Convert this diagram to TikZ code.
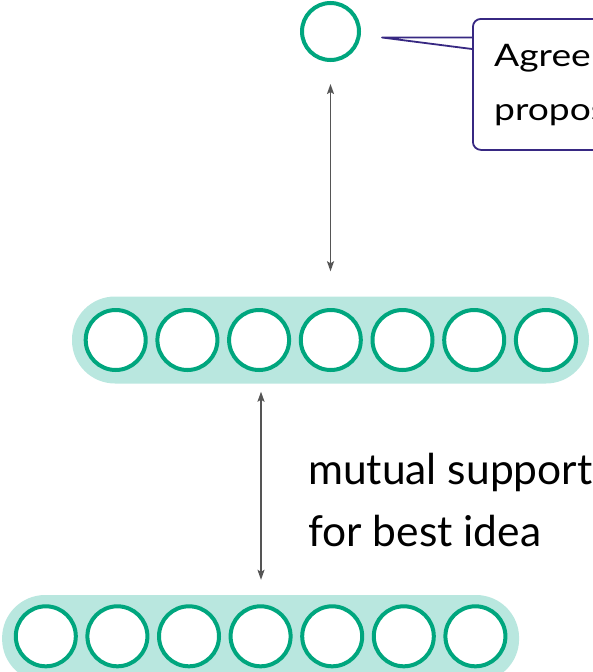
\documentclass[tikz,border=0pt]{standalone}
\usepackage{fontspec}
\setmainfont{Lato}
\newfontfamily\widefont[FakeStretch=1.2]{Lato}
\usetikzlibrary{arrows.meta}
\definecolor{ringgreen}{RGB}{0,166,126}
\definecolor{pillteal}{RGB}{185,231,223}
\definecolor{callpurple}{RGB}{55,40,130}
\definecolor{arrowgray}{RGB}{85,85,85}
\begin{document}
\begin{tikzpicture}[x=1pt,y=-1pt,
    ring/.style={circle,draw=ringgreen,fill=white,line width=4pt,minimum size=60pt,inner sep=0pt},
    pill/.style={fill=pillteal,rounded corners=43pt,minimum width=517pt,minimum height=87pt,inner sep=0pt},
    dbl/.style={{Stealth[length=10pt,width=7pt,inset=2pt]}-{Stealth[length=10pt,width=7pt,inset=2pt]},arrowgray,line width=1.6pt},
    callbox/.style={draw=callpurple,line width=1.8pt,rounded corners=8pt,fill=white,inner sep=0pt},
    big/.style={font=\fontsize{42.5}{50}\selectfont,inner sep=0pt},
    small/.style={font=\widefont\fontsize{31}{37}\selectfont,inner sep=0pt}]
   \useasboundingbox (0,0) rectangle (593,672);
   % the two groups
   \node[pill] (midrow) at (330.5,340) {};
   \node[pill] (botrow) at (260.6,638.5) {};
   \foreach \i in {0,...,6} {
      \node[ring] (m\i) at (115.7+71.7*\i,340) {};
      \node[ring] (b\i) at (45.8+71.6*\i,636.3) {};
   }
   % the agreed proposal
   \node[ring,minimum size=57pt] (top) at (330.5,31.5) {};
   % callout
   \coordinate (tip) at (382,37.5);
   \node[callbox,anchor=north west,minimum width=200pt,minimum height=131pt] (callout) at (472,18) {};
   \draw[callpurple,line width=1.8pt,line join=round] (callout.west |- tip) -- (tip) -- ([yshift=-11.5pt]callout.west |- tip);
   \node[small,anchor=base west] (agree) at (494,66.5) {Agree};
   \node[small,anchor=base west] (propos) at (494,120.5) {propos};
   % arrows
   \coordinate (a2) at (261,0);
   \draw[dbl,shorten <=22pt,shorten >=25pt] (top.south) -- (top.south |- midrow.north);
   \draw[dbl,shorten <=8pt,shorten >=15pt] (midrow.south -| a2) -- (botrow.north -| a2);
   \node[big,anchor=base west] (mutual) at (308,484) {mutual support};
   \node[big,anchor=base west] (forbest) at (308,546) {for best idea};
\end{tikzpicture}
\end{document}
